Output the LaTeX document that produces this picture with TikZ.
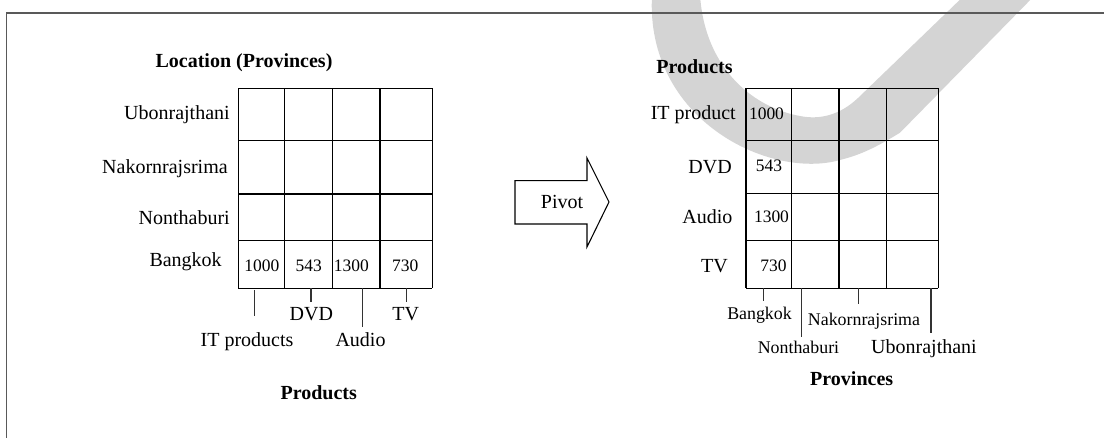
\documentclass[tikz,border=0pt]{standalone}
\usepackage{fontspec}
\setmainfont{Liberation Serif}
\begin{document}
\begin{tikzpicture}[x=0.75pt,y=-0.75pt,
  lbl/.style={font=\fontsize{15}{18}\selectfont, inner sep=0pt},
  sml/.style={font=\fontsize{13.4}{16}\selectfont, inner sep=0pt},
  num/.style={font=\fontsize{13.1}{16}\selectfont, inner sep=0pt},
  ttl/.style={font=\bfseries\fontsize{15}{18}\selectfont, inner sep=0pt},
  gridline/.style={line width=1pt, black},
  tick/.style={line width=0.8pt, black!80},
  frame/.style={line width=0.9pt, black!65},
  band/.style={fill=black!17, draw=none}]
\useasboundingbox (0,0) rectangle (1104,438);

% light grey swoosh in the background
\begin{scope}
\clip (0,0) rectangle (1104,438);
\fill[band] (652,-5) .. controls (645,120) and (770,180) .. (840,160)
  .. controls (860,155) and (875,148) .. (900,132.7) -- (1040,-10)
  -- (970,-10) -- (858,98) .. controls (840,115) and (820,120) .. (800,116)
  .. controls (755,108) and (705,70) .. (700,-5) -- cycle;
\end{scope}

% open frame: top and left edges
\draw[frame] (6.5,438) -- (6.5,13) -- (1104,13);

% ---------------- left cube: provinces x products ----------------
\foreach \x in {238.3,284.3,332.3,380,432.3}
  \draw[gridline] (\x,88.3) -- (\x,288.3);
\foreach \y in {88.3,140.3,194,240.7,288.3}
  \draw[gridline] (238.3,\y) -- (432.3,\y);

\node[ttl, anchor=base] (ltitle) at (244,68) {Location (Provinces)};
\node[lbl, anchor=base east] (lubon) at (230,120) {Ubonrajthani};
\node[lbl, anchor=base east] (lnakorn) at (228,173.3) {Nakornrajsrima};
\node[lbl, anchor=base east] (lnont) at (230,225) {Nonthaburi};
\node[lbl, anchor=base east] (lbkk) at (222,266.7) {Bangkok};

\node[num, anchor=base] (lv1) at (261.8,271.7) {1000};
\node[num, anchor=base] (lv2) at (308.8,271.7) {543};
\node[num, anchor=base] (lv3) at (351.3,271.7) {1300};
\node[num, anchor=base] (lv4) at (405.3,271.7) {730};

\coordinate (lt1a) at (254.3,290);   \coordinate (lt1b) at (254.3,316);
\coordinate (lt2a) at (311,288.3);   \coordinate (lt2b) at (311,301.7);
\coordinate (lt3a) at (362.3,288.3); \coordinate (lt3b) at (362.3,326.7);
\coordinate (lt4a) at (406.7,288.3); \coordinate (lt4b) at (406.7,301.7);
\draw[tick] (lt1a) -- (lt1b);
\draw[tick] (lt2a) -- (lt2b);
\draw[tick] (lt3a) -- (lt3b);
\draw[tick] (lt4a) -- (lt4b);

\node[lbl, anchor=base] (ldvd) at (311.3,320.7) {DVD};
\node[lbl, anchor=base] (ltv) at (405.8,320.7) {TV};
\node[lbl, anchor=base] (lit) at (247,346.7) {IT products};
\node[lbl, anchor=base] (laudio) at (360.5,346.7) {Audio};
\node[ttl, anchor=base] (lprod) at (318.7,400) {Products};

% ---------------- pivot arrow ----------------
\draw[line width=0.8pt] (515,180.7) -- (587,180.7) -- (587,158) -- (609,202)
  -- (587,247) -- (587,224) -- (515,224) -- cycle;
\node[lbl, anchor=base] (pivot) at (562,209) {Pivot};

% ---------------- right cube: products x provinces ----------------
\foreach \x in {746,791.7,839,886.7,938.3}
  \draw[gridline] (\x,88.3) -- (\x,288.3);
\foreach \y in {88.3,140.3,193.3,240.3,288.3}
  \draw[gridline] (746,\y) -- (938.3,\y);

\node[ttl, anchor=base] (rtitle) at (694.5,73.3) {Products};
\node[lbl, anchor=base east] (rit) at (736,119.3) {IT product};
\node[lbl, anchor=base east] (rdvd) at (732,173.3) {DVD};
\node[lbl, anchor=base east] (raudio) at (732.7,224) {Audio};
\node[lbl, anchor=base east] (rtv) at (728,272.7) {TV};

\node[num, anchor=base] (rv1) at (766.5,119.3) {1000};
\node[num, anchor=base] (rv2) at (769,171.7) {543};
\node[num, anchor=base] (rv3) at (771.5,222.7) {1300};
\node[num, anchor=base] (rv4) at (773.5,271.7) {730};

\coordinate (rt1a) at (763.3,288.3); \coordinate (rt1b) at (763.3,300.7);
\coordinate (rt2a) at (801.7,288.3); \coordinate (rt2b) at (801.7,336.7);
\coordinate (rt3a) at (858.3,288.3); \coordinate (rt3b) at (858.3,304);
\coordinate (rt4a) at (931,288.3);   \coordinate (rt4b) at (931,333);
\draw[tick] (rt1a) -- (rt1b);
\draw[tick] (rt2a) -- (rt2b);
\draw[tick] (rt3a) -- (rt3b);
\draw[tick] (rt4a) -- (rt4b);

\node[sml, anchor=base] (rbkk) at (759.5,319.3) {Bangkok};
\node[sml, anchor=base] (rnakorn) at (864,326) {Nakornrajsrima};
\node[sml, anchor=base] (rnont) at (798.5,353.3) {Nonthaburi};
\node[lbl, anchor=base] (rubon) at (924,353.3) {Ubonrajthani};
\node[ttl, anchor=base] (rprov) at (851.7,386) {Provinces};
\end{tikzpicture}
\end{document}
